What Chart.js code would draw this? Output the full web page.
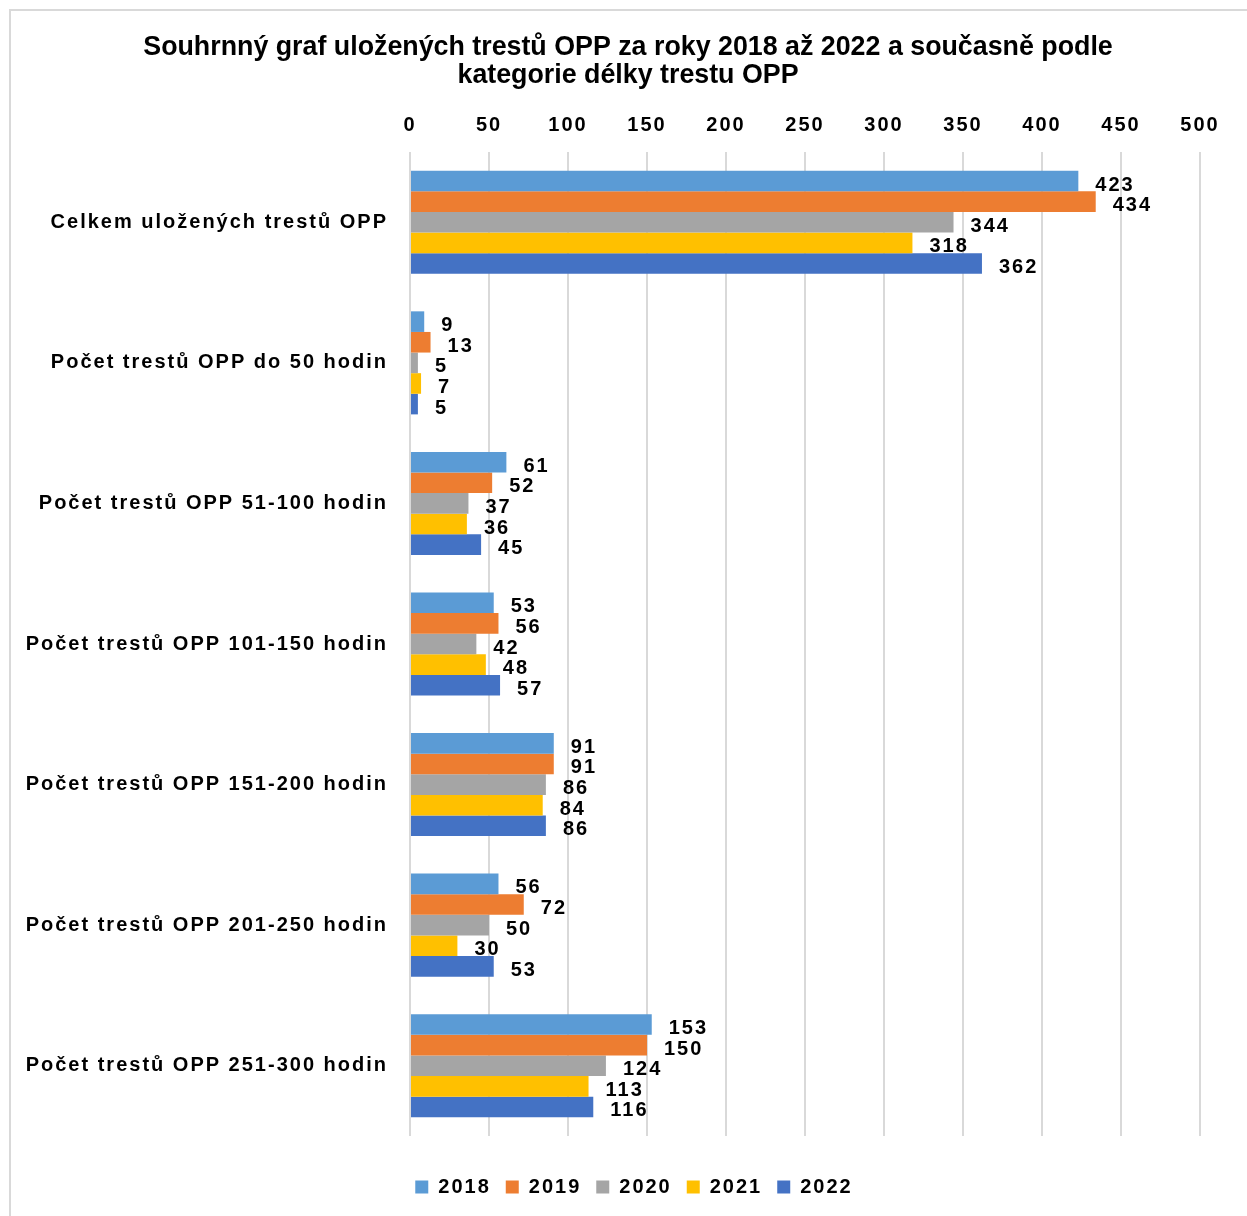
<!DOCTYPE html>
<html>
<head>
<meta charset="utf-8">
<script src="https://cdn.jsdelivr.net/npm/chart.js@4.4.1/dist/chart.umd.min.js"></script>
<style>
    html, body { margin: 0; padding: 0; background: #fff; overflow: hidden; }
    .frame { position: absolute; left: 9px; top: 9px; width: 1400px; height: 1400px;
             border-left: 2px solid #d9d9d9; border-top: 2px solid #d9d9d9; }
    #wrap { position: absolute; left: 0; top: 0; width: 1247px; height: 1216px; }
</style>
</head>
<body>
<div class="frame"></div>
<div id="wrap"><canvas id="myChart"></canvas></div>
<script>
'use strict';

const categories = [
    'Celkem uložených trestů OPP',
    'Počet trestů OPP do 50 hodin',
    'Počet trestů OPP 51-100 hodin',
    'Počet trestů OPP 101-150 hodin',
    'Počet trestů OPP 151-200 hodin',
    'Počet trestů OPP 201-250 hodin',
    'Počet trestů OPP 251-300 hodin'
];
const years = ['2018', '2019', '2020', '2021', '2022'];
const values2018 = [423, 9, 61, 53, 91, 56, 153];
const values2019 = [434, 13, 52, 56, 91, 72, 150];
const values2020 = [344, 5, 37, 42, 86, 50, 124];
const values2021 = [318, 7, 36, 48, 84, 30, 113];
const values2022 = [362, 5, 45, 57, 86, 53, 116];
const colors = ['#5B9BD5', '#ED7D31', '#A5A5A5', '#FFC000', '#4472C4'];

const FONT = "'Liberation Sans', Arial, sans-serif";
const SPACING = '2px';

// obalí kreslení bloku posunem (titulek a legenda nejsou v Excelu na středu)
function shiftDraw(chart, block, dx, spacing) {
    if (!block) return;
    const draw = block.draw;
    block.draw = function () {
        const ctx = chart.ctx;
        ctx.save();
        ctx.translate(dx, 0);
        ctx.letterSpacing = spacing;
        draw.apply(this, arguments);
        ctx.restore();
        ctx.letterSpacing = SPACING;
    };
}

// proložení písmen jako v Excelu (titulek bez proložení)
const letterSpacing = {
    id: 'letterSpacing',
    afterInit(chart) {
        shiftDraw(chart, chart.titleBlock, 28, '0px');
        shiftDraw(chart, chart.legend, 34, SPACING);
    },
    beforeUpdate(chart) { chart.ctx.letterSpacing = SPACING; },
    beforeDraw(chart) { chart.ctx.letterSpacing = SPACING; }
};

// popisky hodnot vpravo od sloupců
const valueLabels = {
    id: 'valueLabels',
    afterDatasetsDraw(chart) {
        const ctx = chart.ctx;
        ctx.save();
        ctx.font = 'bold 20px ' + FONT;
        ctx.fillStyle = '#000';
        ctx.textAlign = 'left';
        ctx.textBaseline = 'middle';
        chart.data.datasets.forEach(function (ds, i) {
            chart.getDatasetMeta(i).data.forEach(function (bar, j) {
                ctx.fillText(String(ds.data[j]), bar.x + 17, bar.y + 4);
            });
        });
        ctx.restore();
    }
};

const series = [values2018, values2019, values2020, values2021, values2022];

new Chart(document.getElementById('myChart').getContext('2d'), {
    type: 'bar',
    data: {
        labels: categories,
        datasets: years.map(function (year, i) {
            return {
                label: year,
                data: series[i],
                backgroundColor: colors[i],
                borderWidth: 0,
                categoryPercentage: 0.733,
                barPercentage: 1
            };
        })
    },
    plugins: [letterSpacing, valueLabels],
    options: {
        indexAxis: 'y',
        responsive: true,
        maintainAspectRatio: false,
        animation: false,
        layout: { padding: { left: 0, right: 47, top: 0, bottom: 9 } },
        plugins: {
            title: {
                display: true,
                text: ['Souhrnný graf uložených trestů OPP za roky 2018 až 2022 a současně podle',
                       'kategorie délky trestu OPP'],
                color: '#000',
                font: { family: FONT, size: 26.8, weight: 'bold', lineHeight: '28px' },
                padding: { top: 34, bottom: 0 }
            },
            legend: {
                position: 'bottom',
                title: { display: true, text: '', font: { size: 1, lineHeight: 1 }, padding: { top: 0, bottom: 25 } },
                labels: {
                    color: '#000',
                    boxWidth: 13,
                    boxHeight: 13,
                    padding: 15,
                    font: { family: FONT, size: 20, weight: 'bold' }
                }
            },
            tooltip: { enabled: false }
        },
        scales: {
            x: {
                position: 'top',
                min: 0,
                max: 500,
                ticks: {
                    stepSize: 50,
                    color: '#000',
                    padding: 15,
                    font: { family: FONT, size: 20, weight: 'bold' }
                },
                grid: { color: '#d9d9d9', lineWidth: 2, drawTicks: false },
                border: { display: false },
                afterFit: function (scale) { scale.height = 62; }
            },
            y: {
                ticks: {
                    color: '#000',
                    padding: 22,
                    font: { family: FONT, size: 20, weight: 'bold' }
                },
                grid: { display: false, drawTicks: false },
                border: { display: false },
                afterFit: function (scale) { scale.width = 410; }
            }
        }
    }
});
</script>
</body>
</html>
